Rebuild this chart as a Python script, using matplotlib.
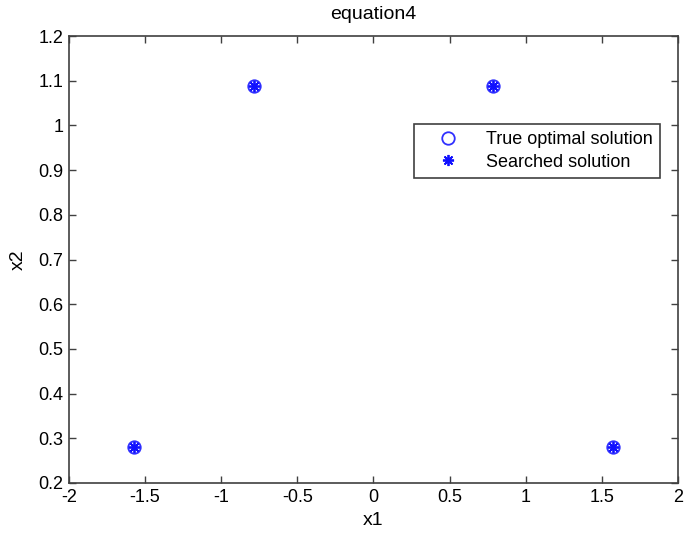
import numpy as np
import matplotlib.pyplot as plt

plt.rcParams['font.family'] = ['Liberation Sans', 'DejaVu Sans']

# solutions (x1, x2)
true_x1 = [-1.5708, -0.7854, 0.7854, 1.5708]
true_x2 = [0.2807, 1.0873, 1.0873, 0.2807]
found_x1 = [-1.5708, -0.7854, 0.7854, 1.5708]
found_x2 = [0.2807, 1.0873, 1.0873, 0.2807]

xticks = [-2, -1.5, -1, -0.5, 0, 0.5, 1, 1.5, 2]
xlabels = ['-2', '-1.5', '-1', '-0.5', '0', '0.5', '1', '1.5', '2']
yticks = [0.2, 0.3, 0.4, 0.5, 0.6, 0.7, 0.8, 0.9, 1.0, 1.1, 1.2]
ylabels = ['0.2', '0.3', '0.4', '0.5', '0.6', '0.7', '0.8', '0.9', '1', '1.1', '1.2']

fig = plt.figure(figsize=(6.85, 5.35), dpi=100)
ax = fig.add_axes([0.1007, 0.0972, 0.889, 0.8355])

ax.plot(true_x1, true_x2, 'o', color='#3030ff', markerfacecolor='none',
        markersize=9, markeredgewidth=1.3, linestyle='none', label='True optimal solution')
ax.plot(found_x1, found_x2, marker=(8, 2, 0), color='#1010ff', markersize=8,
        markeredgewidth=1.3, linestyle='none', label='Searched solution')

ax.set_xlim(-2, 2)
ax.set_ylim(0.2, 1.2)
ax.set_xticks(xticks)
ax.set_xticklabels(xlabels)
ax.set_yticks(yticks)
ax.set_yticklabels(ylabels)
ax.tick_params(direction='in', top=True, right=True, length=5, width=1,
               color='#404040', labelsize=13, pad=4)
for s in ax.spines.values():
    s.set_color('#404040')
    s.set_linewidth(1.2)

ax.set_xlabel('x1', fontsize=14, labelpad=5)
ax.set_ylabel('x2', fontsize=14, labelpad=8)
ax.set_title('equation4', fontsize=14, pad=12)

leg = ax.legend(loc='upper right', bbox_to_anchor=(0.9704, 0.803), fontsize=13,
                fancybox=False, framealpha=1, edgecolor='#404040',
                borderpad=0.4, handletextpad=0.6, handlelength=3.0, labelspacing=0.3,
                borderaxespad=0)
leg.get_frame().set_linewidth(1.2)

fig.savefig('out.png', dpi=100)
